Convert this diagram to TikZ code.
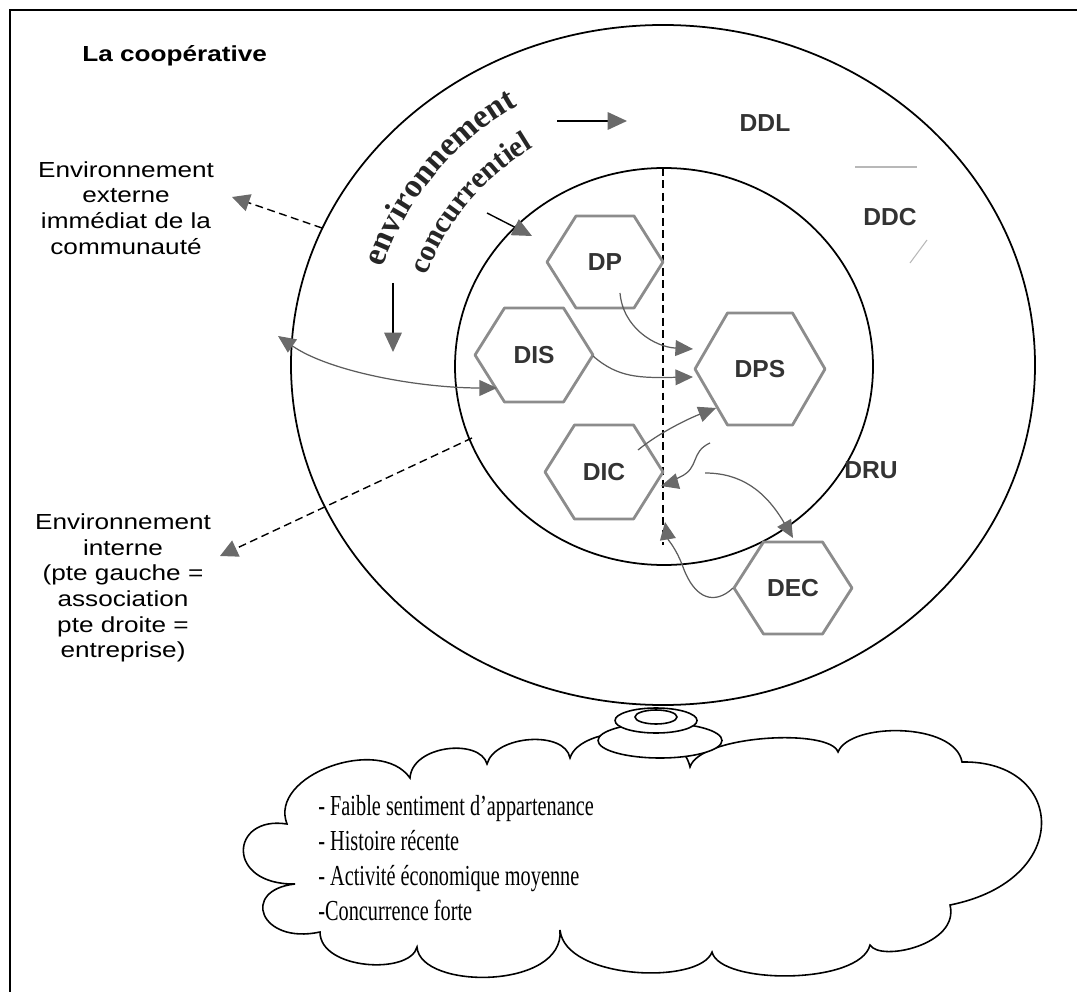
\documentclass[tikz,border=0pt]{standalone}
\usepackage{fontspec}
\setmainfont{Liberation Serif}
\newfontfamily\lab{Liberation Sans}[FakeStretch=1.2]
\newfontfamily\hexfont{Liberation Sans}
\newfontfamily\cloudfont{Liberation Serif}[FakeStretch=0.70]
\usetikzlibrary{arrows.meta,decorations.text}

\definecolor{tipgray}{HTML}{6A6A6A}
\definecolor{linkgray}{HTML}{5C5C5C}
\definecolor{hexgray}{HTML}{8C8C8C}
\definecolor{ghostgray}{HTML}{B8B8B8}

\newcommand\envfont{\bfseries\fontsize{19}{23}\selectfont}
\newcommand\concfont{\bfseries\fontsize{17}{20}\selectfont}

% hexagon cell: name, position, label, half width, half height (in px units)
\newcommand{\hexcell}[5]{%
  \node[hexlabel] (#1) at #2 {#3};
  \draw[hexline, shift={(#1.center)}]
    (-#4,0) -- (-#4/2,-#5) -- (#4/2,-#5) -- (#4,0) -- (#4/2,#5) -- (-#4/2,#5) -- cycle;
}

\begin{document}
\begin{tikzpicture}[x=0.2mm, y=-0.2mm,
  frame/.style={line width=1.1pt},
  ring/.style={line width=1pt},
  dashline/.style={line width=0.8pt, dash pattern=on 4.5pt off 2.6pt},
  blackarrow/.style={line width=0.8pt, -{Triangle[length=11pt,width=10pt,color=tipgray]}},
  dasharrow/.style={dashline, -{Triangle[length=10pt,width=10pt,color=tipgray]}},
  link/.style={draw=linkgray, line width=0.7pt, -{Triangle[length=10pt,width=9pt,color=tipgray]}},
  twolink/.style={draw=linkgray, line width=0.7pt, {Triangle[length=10pt,width=9pt,color=tipgray]}-{Triangle[length=10pt,width=9pt,color=tipgray]}},
  hexline/.style={draw=hexgray, line width=1.6pt, line join=round},
  hexlabel/.style={font=\hexfont\bfseries\fontsize{14}{16}\selectfont, text=black!80, inner sep=0pt},
  zone/.style={font=\hexfont\bfseries\fontsize{14}{16}\selectfont, text=black!80, inner sep=0pt},
  sidelabel/.style={font=\lab\fontsize{12.4}{14.6}\selectfont, align=center, inner sep=0pt},
  ghost/.style={draw=ghostgray, line width=0.6pt},
  cloudline/.style={line width=0.9pt, fill=white},
  tray/.style={line width=0.9pt, fill=white}]

\useasboundingbox (0,0) rectangle (1077,992);

% frame
\draw[frame] (10,992) -- (10,10) -- (1077,10);

% title and side labels
\node[font=\lab\bfseries\fontsize{12.4}{14.6}\selectfont, anchor=base west, inner sep=0pt]
  (title) at (82,62) {La coopérative};
\node[sidelabel] (extlabel) at (126,208) {Environnement\\externe\\immédiat de la\\communauté};
\node[sidelabel] (intlabel) at (123,588) {Environnement\\interne\\(pte gauche =\\association\\pte droite =\\entreprise)};

% the two environments
\draw[ring] (663,365) ellipse [x radius=74.4mm, y radius=68mm];
\draw[ring] (664,366.5) ellipse [x radius=41.8mm, y radius=39.7mm];

% faint marks in the outer ring
\draw[ghost] (855,167) -- (917,167);
\draw[ghost] (910,263) -- (927,240);

% split between association and entreprise
\coordinate (splitTop) at (663,168);
\coordinate (splitBot) at (663,545);
\draw[dashline] (splitTop) -- (splitBot);

% curved caption of the competitive environment
\path[decorate, decoration={text along path, text align=center, text color=black!85,
  text={|\envfont|environnement}}]
  plot[domain=178:102, samples=60] ({663+297*cos(\x)},{365-297*sin(\x)});
\path[decorate, decoration={text along path, text align=center, text color=black!85,
  text={|\concfont|concurrentiel}}]
  plot[domain=178:102, samples=60] ({663+253*cos(\x)},{365-253*sin(\x)});

% black arrows of the competitive environment
\coordinate (arrR0) at (557,121); \coordinate (arrR1) at (627,121);
\coordinate (arrD0) at (487,213); \coordinate (arrD1) at (532,236);
\coordinate (arrV0) at (393,283); \coordinate (arrV1) at (393,352);
\draw[blackarrow] (arrR0) -- (arrR1);
\draw[blackarrow] (arrD0) -- (arrD1);
\draw[blackarrow] (arrV0) -- (arrV1);

% dashed pointers to the side labels
\coordinate (outerNW) at (322,228); \coordinate (extTip) at (232,197);
\coordinate (innerSW) at (472,438); \coordinate (intTip) at (220,556);
\draw[dasharrow] (outerNW) -- (extTip);
\draw[dasharrow] (innerSW) -- (intTip);

% zone labels
\node[zone] (DDL) at (765,123) {DDL};
\node[zone] (DDC) at (890,217) {DDC};
\node[zone] (DRU) at (871,470) {DRU};

% hexagonal cells
\hexcell{DP}{(605,262)}{DP}{58}{46}
\hexcell{DIS}{(534,355)}{DIS}{59}{47}
\hexcell{DIC}{(604,472)}{DIC}{59}{47}
\hexcell{DPS}{(760,369)}{DPS}{65}{56}
\hexcell{DEC}{(793,588)}{DEC}{59}{46}

% links between the cells
\coordinate (dpOut) at (620,293);   \coordinate (dpsInA) at (693,349);
\coordinate (disOut) at (593,356);  \coordinate (dpsInB) at (693,377);
\coordinate (dicOut) at (638,450);  \coordinate (dpsInC) at (716,408);
\coordinate (dpsOutA) at (710,443); \coordinate (dicIn) at (661,486);
\coordinate (dpsOutB) at (705,473); \coordinate (decIn) at (793,538);
\coordinate (decOut) at (733,588);  \coordinate (splitIn) at (665,522);
\coordinate (outerW) at (278,336);  \coordinate (disIn) at (497,388);

\draw[link] (dpOut) .. controls (623,328) and (655,347) .. (dpsInA);
\draw[link] (disOut) .. controls (618,378) and (640,378) .. (dpsInB);
\draw[link] (dicOut) .. controls (660,432) and (690,418) .. (dpsInC);
\draw[link] (dpsOutA) .. controls (690,452) and (700,468) .. (680,477) .. controls (672,481) and (668,484) .. (dicIn);
\draw[link] (dpsOutB) .. controls (740,473) and (765,490) .. (decIn);
\draw[link] (decOut) .. controls (715,605) and (695,600) .. (683,567) .. controls (676,548) and (668,540) .. (splitIn);
\draw[twolink] (outerW) .. controls (330,372) and (420,388) .. (disIn);

% cloud of context factors
\draw[cloudline] (287,824)
  .. controls (268,775) and (380,735) .. (410,778)
  .. controls (412,745) and (480,738) .. (487,764)
  .. controls (495,735) and (565,730) .. (570,758)
  .. controls (580,725) and (680,720) .. (690,767)
  .. controls (700,735) and (830,728) .. (838,752)
  .. controls (850,722) and (955,722) .. (962,762)
  .. controls (1065,760) and (1075,880) .. (950,905)
  .. controls (960,945) and (880,962) .. (870,945)
  .. controls (860,985) and (720,985) .. (712,952)
  .. controls (700,985) and (565,980) .. (560,930)
  .. controls (565,990) and (420,990) .. (417,947)
  .. controls (410,975) and (320,970) .. (320,932)
  .. controls (260,945) and (240,890) .. (295,884)
  .. controls (225,885) and (230,815) .. cycle;

% stand under the ring
\draw[tray] (660,740.5) ellipse [x radius=12.4mm, y radius=3.5mm];
\draw[tray] (656,720.5) ellipse [x radius=8.2mm, y radius=2.5mm];
\draw[tray] (656,717) ellipse [x radius=4.2mm, y radius=1.4mm];

\node[anchor=base west, inner sep=0pt] (facts) at (318,815) {\cloudfont\fontsize{16.5}{20}\selectfont
  \vtop{\baselineskip=20pt\lineskiplimit=-\maxdimen
    \hbox{- Faible sentiment d’appartenance}
    \hbox{- Histoire récente}
    \hbox{- Activité économique moyenne}
    \hbox{-Concurrence forte}}};

\end{tikzpicture}
\end{document}
